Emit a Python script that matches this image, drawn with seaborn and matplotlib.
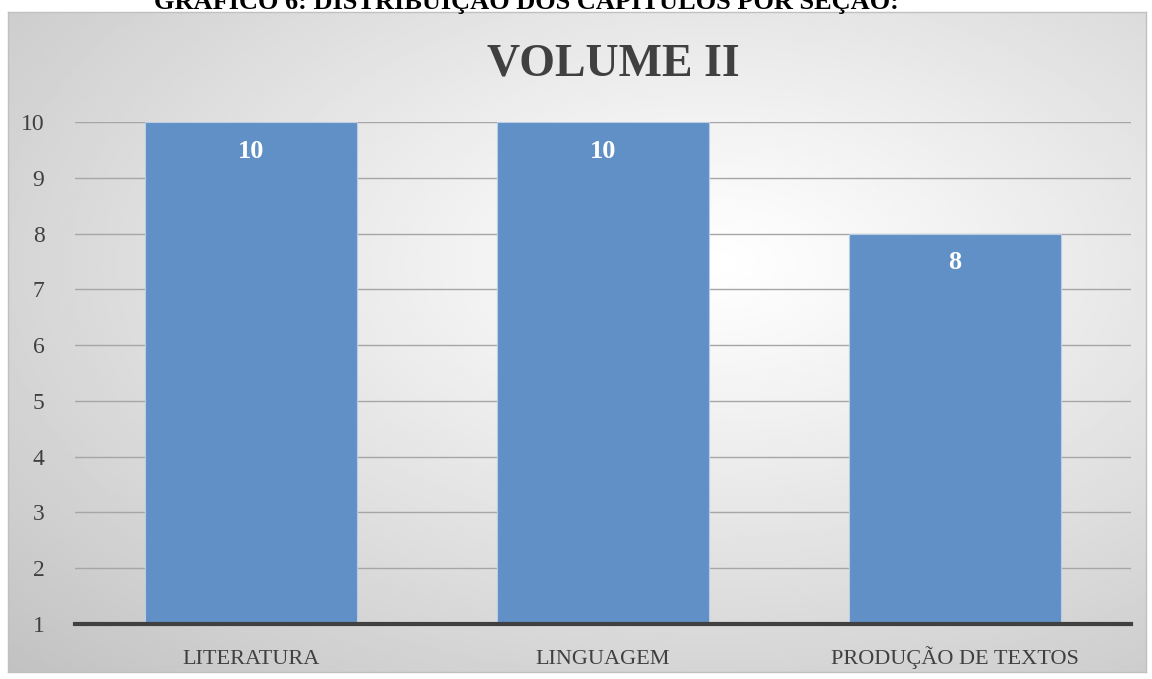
import numpy as np
import matplotlib
matplotlib.use("Agg")
import matplotlib.pyplot as plt
import seaborn as sns
import pandas as pd

categories = ["LITERATURA", "LINGUAGEM", "PRODUÇÃO DE TEXTOS"]
values = [10, 10, 8]
yticks = [1, 2, 3, 4, 5, 6, 7, 8, 9, 10]
title = "VOLUME II"
caption = "GRÁFICO 6: DISTRIBUIÇÃO DOS CAPÍTULOS POR SEÇÃO:"

sns.set_theme(style="white")
plt.rcParams['font.family'] = ['Liberation Serif', 'DejaVu Serif']

W, H = 1152, 679
fig = plt.figure(figsize=(W / 100, H / 100), dpi=100)
fig.patch.set_facecolor("white")

# chart box with radial gradient
bx0, by0, bx1, by1 = 8, 12, 1146, 672
bg = fig.add_axes([bx0 / W, 1 - by1 / H, (bx1 - bx0) / W, (by1 - by0) / H])
nx, ny = 400, 240
xx, yy = np.meshgrid(np.linspace(0, 1, nx), np.linspace(0, 1, ny))
cx, cy = 0.62, 0.38
r = np.sqrt(((xx - cx) / 0.75) ** 2 + ((yy - cy) / 0.75) ** 2)
r = np.clip(r / r.max(), 0, 1)
shade = 1.0 - 0.24 * r ** 1.1
bg.imshow(shade, cmap="gray", vmin=0, vmax=1, aspect="auto", extent=[0, 1, 1, 0], interpolation="bilinear")
bg.set_xlim(0, 1)
bg.set_ylim(1, 0)
bg.set_xticks([])
bg.set_yticks([])
for s in bg.spines.values():
    s.set_color("#c0c0c0")
    s.set_linewidth(1)

# main axes
ax0, ay0, ax1, ay1 = 75, 122, 1131, 624
ax = fig.add_axes([ax0 / W, 1 - ay1 / H, (ax1 - ax0) / W, (ay1 - ay0) / H])
ax.set_facecolor("none")
df = pd.DataFrame({"cat": categories, "val": values})
sns.barplot(data=df, x="cat", y="val", ax=ax, color="#6190c6", width=0.6,
            saturation=1, edgecolor="#b9cde6", linewidth=0.8, zorder=3)
ax.set_ylim(1, 10)
ax.set_yticks(yticks)
ax.yaxis.grid(True, color="#a6a6a6", linewidth=1, zorder=0)
ax.set_axisbelow(True)
for s in ["top", "right", "left"]:
    ax.spines[s].set_visible(False)
ax.spines["bottom"].set_color("#404040")
ax.spines["bottom"].set_linewidth(3)
ax.spines["bottom"].set_zorder(5)
ax.set_xlabel("")
ax.set_ylabel("")
ax.tick_params(axis="y", length=0, pad=22, labelsize=17, labelcolor="#404040")
ax.tick_params(axis="x", length=0, pad=29, labelsize=16, labelcolor="#404040")
for lab in ax.get_xticklabels():
    lab.set_verticalalignment("baseline")

for i, v in enumerate(values):
    ax.annotate(str(v), xy=(i, v), xytext=(0, -21), textcoords="offset points",
                ha="center", va="center", color="white", fontsize=19, fontweight="bold", zorder=6)

fig.text(613 / W, 1 - 64 / H, title, ha="center", va="center", fontsize=33,
         fontweight="bold", color="#404040")
fig.text(526 / W, 1 - 0 / H, caption, ha="center", va="center", fontsize=19,
         fontweight="bold", color="black")

fig.savefig("out.png", dpi=100, facecolor="white")
